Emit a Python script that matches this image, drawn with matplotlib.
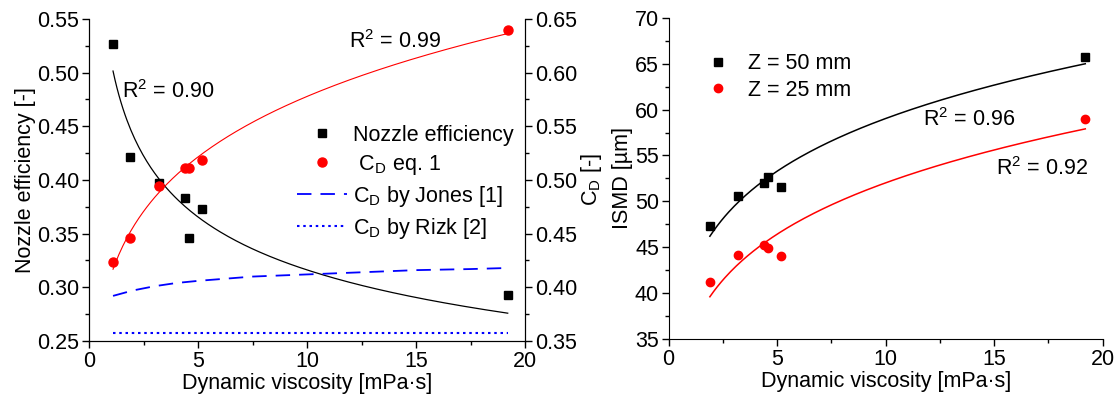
import matplotlib
matplotlib.use("Agg")
import matplotlib.pyplot as plt
from matplotlib.ticker import MultipleLocator, FormatStrFormatter
import numpy as np

plt.rcParams['font.family'] = ['Liberation Sans', 'DejaVu Sans']
plt.rcParams['mathtext.fontset'] = 'custom'
plt.rcParams['mathtext.rm'] = 'Liberation Sans'
plt.rcParams['mathtext.it'] = 'Liberation Sans'
FS = 15.5
plt.rcParams['font.size'] = FS

# Left panel data
visc_left = [1.1, 1.9, 3.2, 4.4, 4.6, 5.2, 19.2]
nozzle_eff = [0.527, 0.421, 0.397, 0.383, 0.346, 0.373, 0.293]
cd_eq1 = [0.424, 0.446, 0.494, 0.511, 0.511, 0.519, 0.640]

# power law fits y = a * x^b (coefficients)
fit_eff = (0.5116, -0.209)
fit_cd = (0.411, 0.148)

jones_x = [1.1, 2, 3, 4, 5, 7.5, 10, 12.5, 15, 17.5, 19.2]
jones_cd = [0.392, 0.397, 0.401, 0.404, 0.406, 0.410, 0.412, 0.414, 0.416, 0.417, 0.418]
rizk_x = [1.1, 19.2]
rizk_cd = [0.357, 0.357]

# Right panel data
visc_right = [1.9, 3.2, 4.4, 4.6, 5.2, 19.2]
ismd_z50 = [47.3, 50.6, 52.0, 52.7, 51.6, 65.75]
ismd_z25 = [41.2, 44.15, 45.25, 44.9, 44.05, 59.0]
fit_z50 = (42.02, 0.1476)
fit_z25 = (35.64, 0.1642)


def power(coef, x):
    return coef[0] * np.asarray(x) ** coef[1]


def style_ticks(ax):
    ax.tick_params(which='major', direction='out', length=5, width=1, labelsize=FS, pad=2)
    ax.tick_params(which='minor', direction='out', length=3, width=1)


fig = plt.figure(figsize=(11.2, 3.96), dpi=100)

# ---------- left panel ----------
ax = fig.add_axes([0.0795, 0.139, 0.3894, 0.813])
ax2 = ax.twinx()

xs = np.linspace(min(visc_left), max(visc_left), 200)
ax.plot(visc_left, nozzle_eff, 's', color='black', ms=6, label='Nozzle efficiency')
ax.plot(xs, power(fit_eff, xs), color='black', lw=0.9)

ax2.plot(visc_left, cd_eq1, 'o', color='red', ms=6.5, label=' C$_\\mathrm{D}$ eq. 1')
ax2.plot(xs, power(fit_cd, xs), color='red', lw=0.8)
ax2.plot(jones_x, jones_cd, color='blue', lw=1.3, ls=(0, (8, 5)), label='C$_\\mathrm{D}$ by Jones [1]')
ax2.plot(rizk_x, rizk_cd, color='blue', lw=1.5, ls=(0, (1.2, 1.8)), label='C$_\\mathrm{D}$ by Rizk [2]')

ax.set_xlim(0, 20)
ax.set_ylim(0.25, 0.55)
ax2.set_ylim(0.35, 0.65)
ax.xaxis.set_major_locator(MultipleLocator(5))
ax.xaxis.set_minor_locator(MultipleLocator(2.5))
ax.yaxis.set_major_locator(MultipleLocator(0.05))
ax.yaxis.set_minor_locator(MultipleLocator(0.025))
ax2.yaxis.set_major_locator(MultipleLocator(0.05))
ax2.yaxis.set_minor_locator(MultipleLocator(0.025))
ax.yaxis.set_major_formatter(FormatStrFormatter('%.2f'))
ax2.yaxis.set_major_formatter(FormatStrFormatter('%.2f'))
for a in (ax, ax2):
    a.spines['top'].set_visible(False)
    style_ticks(a)
ax.set_xlabel('Dynamic viscosity [mPa·s]', fontsize=FS, labelpad=1)
ax.set_ylabel('Nozzle efficiency [-]', fontsize=FS, labelpad=1)
ax2.set_ylabel('C$_\\mathrm{D}$ [-]', fontsize=FS, labelpad=1)

ax.text(1.5, 0.482, 'R$^2$ = 0.90', fontsize=FS, va='center', ha='left')
ax.text(11.9, 0.5286, 'R$^2$ = 0.99', fontsize=FS, va='center', ha='left')

h1, l1 = ax.get_legend_handles_labels()
h2, l2 = ax2.get_legend_handles_labels()
ax2.legend(h1 + h2, l1 + l2, loc='upper left', bbox_to_anchor=(0.477, 0.672),
           frameon=False, borderaxespad=0, borderpad=0, handlelength=2.33,
           handletextpad=0.28, labelspacing=0.33, numpoints=1, fontsize=FS)

# ---------- right panel ----------
bx = fig.add_axes([0.597, 0.144, 0.3875, 0.811])
xr = np.linspace(min(visc_right), max(visc_right), 200)
bx.plot(visc_right, ismd_z50, 's', color='black', ms=6, label='Z = 50 mm')
bx.plot(visc_right, ismd_z25, 'o', color='red', ms=6, label='Z = 25 mm')
bx.plot(xr, power(fit_z50, xr), color='black', lw=1.1)
bx.plot(xr, power(fit_z25, xr), color='red', lw=1.1)

bx.set_xlim(0, 20)
bx.set_ylim(35, 70)
bx.xaxis.set_major_locator(MultipleLocator(5))
bx.xaxis.set_minor_locator(MultipleLocator(2.5))
bx.yaxis.set_major_locator(MultipleLocator(5))
bx.yaxis.set_minor_locator(MultipleLocator(2.5))
bx.spines['top'].set_visible(False)
bx.spines['right'].set_visible(False)
style_ticks(bx)
bx.set_xlabel('Dynamic viscosity [mPa·s]', fontsize=FS, labelpad=1)
bx.set_ylabel('ISMD [µm]', fontsize=FS, labelpad=1)

bx.text(11.7, 58.9, 'R$^2$ = 0.96', fontsize=FS, va='center', ha='left')
bx.text(15.1, 53.6, 'R$^2$ = 0.92', fontsize=FS, va='center', ha='left')

bx.legend(loc='upper left', bbox_to_anchor=(0.076, 0.89), frameon=False,
          borderaxespad=0, borderpad=0, handlelength=1.5, handletextpad=0.65,
          labelspacing=0.25, numpoints=1, fontsize=FS)

fig.savefig('out.png', dpi=100)
